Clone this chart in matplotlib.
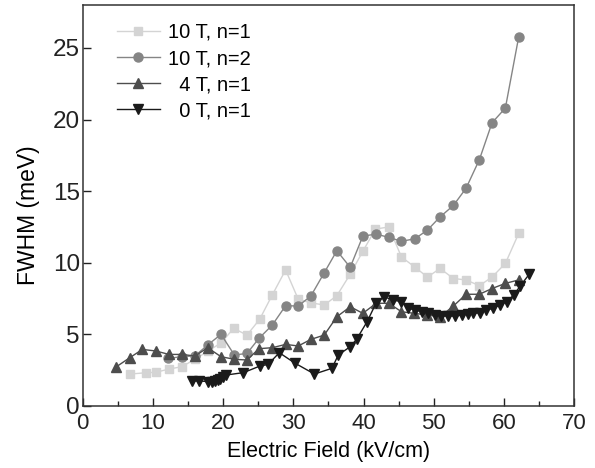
import matplotlib
matplotlib.use("Agg")
import matplotlib.pyplot as plt
from matplotlib.ticker import MultipleLocator

plt.rcParams['font.family'] = ['Liberation Sans', 'DejaVu Sans']

# 10 T, n=1 (light gray squares)
x_10t_n1 = [6.75, 8.97, 10.4, 12.3, 14.1, 16.0, 17.9, 19.7, 21.5, 23.4, 25.2, 27.0, 28.9,
            30.7, 32.5, 34.4, 36.2, 38.1, 39.9, 41.7, 43.6, 45.4, 47.3, 49.1, 50.9,
            52.8, 54.6, 56.5, 58.3, 60.2, 62.1]
y_10t_n1 = [2.23, 2.32, 2.35, 2.58, 2.74, 3.26, 3.85, 4.4, 5.42, 4.95, 6.05, 7.75, 9.5,
            7.45, 7.2, 7.05, 7.7, 9.2, 10.8, 12.35, 12.5, 10.4, 9.7, 9.0, 9.6,
            8.9, 8.8, 8.4, 9.0, 9.95, 12.05]

# 10 T, n=2 (gray circles)
x_10t_n2 = [12.2, 14.1, 16.0, 17.8, 19.7, 21.6, 23.4, 25.1, 27.0, 28.9, 30.7, 32.5, 34.4,
            36.2, 38.1, 39.9, 41.8, 43.6, 45.4, 47.3, 49.1, 50.9, 52.8, 54.6, 56.5,
            58.3, 60.2, 62.1]
y_10t_n2 = [3.33, 3.44, 3.5, 4.26, 5.0, 3.56, 3.67, 4.72, 5.65, 7.0, 6.98, 7.68, 9.3,
            10.84, 9.68, 11.86, 12.0, 11.77, 11.5, 11.67, 12.28, 13.2, 14.0, 15.2, 17.2,
            19.77, 20.8, 25.77]

# 4 T, n=1 (dark gray up triangles)
x_4t_n1 = [4.8, 6.7, 8.5, 10.4, 12.3, 14.1, 16.0, 17.8, 19.7, 21.6, 23.4, 25.1, 27.0,
           28.9, 30.7, 32.5, 34.4, 36.2, 38.1, 39.9, 41.8, 43.6, 45.4, 47.2, 49.1,
           50.9, 52.8, 54.6, 56.5, 58.3, 60.2, 62.1]
y_4t_n1 = [2.74, 3.37, 3.95, 3.84, 3.6, 3.6, 3.49, 4.07, 3.44, 3.26, 3.21, 4.0, 4.07,
           4.3, 4.19, 4.65, 4.95, 6.23, 6.93, 6.47, 7.17, 7.17, 6.58, 6.47, 6.35,
           6.23, 6.98, 7.8, 7.8, 8.2, 8.56, 8.8]

# 0 T, n=1 (black down triangles)
x_0t_n1 = [15.6, 16.6, 17.9, 18.4, 18.8, 19.2, 19.6, 20.0, 20.4, 22.9, 25.3, 26.4, 28.0,
           30.2, 33.0, 35.5, 36.4, 38.1, 39.0, 40.5, 41.8, 42.9, 44.2, 45.4, 46.4,
           47.3, 48.3, 49.2, 50.2, 51.1, 52.1, 53.0, 54.0, 54.9, 55.6, 56.6, 57.5,
           58.5, 59.4, 60.4, 61.4, 62.3, 63.6]
y_0t_n1 = [1.75, 1.75, 1.7, 1.7, 1.75, 1.8, 1.9, 2.0, 2.16, 2.33, 2.8, 2.9, 3.72,
           3.0, 2.23, 2.63, 3.56, 4.14, 4.65, 5.88, 7.2, 7.63, 7.4, 7.28, 6.82,
           6.7, 6.58, 6.47, 6.35, 6.28, 6.28, 6.28, 6.35, 6.42, 6.47, 6.51, 6.7,
           6.82, 7.05, 7.28, 7.75, 8.37, 9.2]


def main():
    fig = plt.figure(figsize=(5.95, 4.68), dpi=100)
    ax = fig.add_axes([0.139, 0.1325, 0.826, 0.857])

    ax.plot(x_10t_n1, y_10t_n1, color='#d4d4d4', marker='s', markersize=5.8,
            linewidth=1, label='10 T, n=1')
    ax.plot(x_10t_n2, y_10t_n2, color='#858585', marker='o', markersize=6.5,
            linewidth=1, label='10 T, n=2')
    ax.plot(x_4t_n1, y_4t_n1, color='#4d4d4d', marker='^', markersize=7,
            linewidth=1, label='  4 T, n=1')
    ax.plot(x_0t_n1, y_0t_n1, color='#1a1a1a', marker='v', markersize=7,
            linewidth=1, label='  0 T, n=1')

    ax.set_xlim(0, 70)
    ax.set_ylim(0, 28)
    ax.xaxis.set_major_locator(MultipleLocator(10))
    ax.xaxis.set_minor_locator(MultipleLocator(5))
    ax.yaxis.set_major_locator(MultipleLocator(5))
    ax.tick_params(which='both', direction='in', colors='#222222')
    ax.tick_params(which='major', length=6, width=1)
    ax.tick_params(which='minor', length=3.5, width=1)
    ax.tick_params(axis='x', labelsize=16, pad=5)
    ax.tick_params(axis='y', labelsize=17.5, pad=2)
    for s in ax.spines.values():
        s.set_color('#333333')
        s.set_linewidth(1.1)

    ax.set_xlabel('Electric Field (kV/cm)', fontsize=15.5, labelpad=5)
    ax.set_ylabel('FWHM (meV)', fontsize=16.5)
    ax.yaxis.set_label_coords(-0.086, 0.476)

    ax.legend(loc='upper left', bbox_to_anchor=(0.069, 0.955), frameon=False,
              fontsize=14.5, handlelength=2.15, handletextpad=0.4,
              labelspacing=0.35, borderaxespad=0, borderpad=0)

    fig.savefig('out.png', dpi=100)


if __name__ == "__main__":
    main()
